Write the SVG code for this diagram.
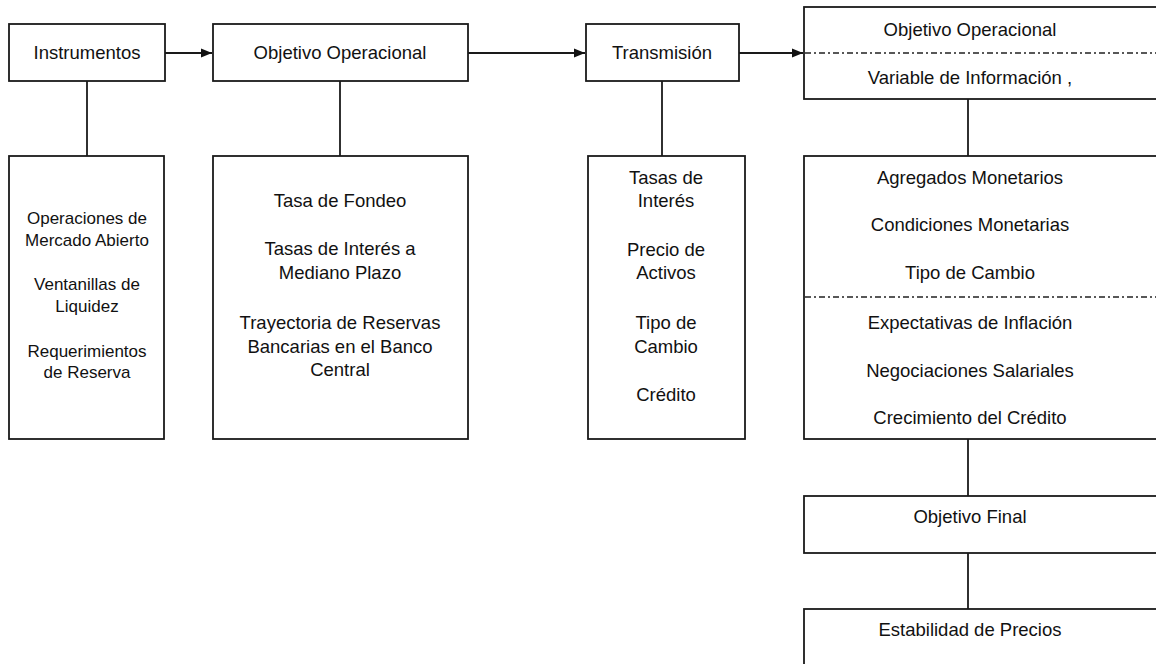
<svg xmlns="http://www.w3.org/2000/svg" width="1156" height="664" viewBox="0 0 1156 664">
<style>
.box{fill:#fff;stroke:#1a1a1a;stroke-width:1.8}
.t{font-family:"Liberation Sans",Arial,sans-serif;font-size:18.5px;fill:#111;text-anchor:middle}
.ts{font-family:"Liberation Sans",Arial,sans-serif;font-size:17px;fill:#111;text-anchor:middle}
.c{stroke:#1a1a1a;stroke-width:1.8;fill:none}
.dd{stroke:#222;stroke-width:1.3;stroke-dasharray:6 3 2 3;fill:none}
</style>
<defs>
<marker id="ah" markerWidth="12" markerHeight="12" refX="11" refY="6" orient="auto" markerUnits="userSpaceOnUse">
<path d="M0,1.5 L11,6 L0,10.5 Z" fill="#111"/>
</marker>
</defs>
<rect width="1156" height="664" fill="#fff"/>
<g id="connectors">
<line class="c" x1="165" y1="53" x2="212" y2="53" marker-end="url(#ah)"/>
<line class="c" x1="468" y1="53" x2="585" y2="53" marker-end="url(#ah)"/>
<line class="c" x1="739" y1="53" x2="803" y2="53" marker-end="url(#ah)"/>
<line class="c" x1="87" y1="81" x2="87" y2="156"/>
<line class="c" x1="340" y1="81" x2="340" y2="156"/>
<line class="c" x1="662" y1="81" x2="662" y2="156"/>
<line class="c" x1="968" y1="99" x2="968" y2="156"/>
<line class="c" x1="968" y1="439" x2="968" y2="496"/>
<line class="c" x1="968" y1="553" x2="968" y2="609"/>
</g>
<g id="n-instrumentos">
<rect class="box" x="9" y="24" width="156" height="57"/>
<text class="t" x="87" y="59">Instrumentos</text>
</g>
<g id="n-objetivo-operacional">
<rect class="box" x="213" y="24" width="255" height="57"/>
<text class="t" x="340" y="59">Objetivo Operacional</text>
</g>
<g id="n-transmision">
<rect class="box" x="586" y="24" width="153" height="57"/>
<text class="t" x="662" y="59">Transmisión</text>
</g>
<g id="n-objetivo-variable">
<rect class="box" x="804" y="7" width="370" height="92"/>
<line class="dd" x1="805" y1="53" x2="1156" y2="53"/>
<text class="t" x="970" y="36">Objetivo Operacional</text>
<text class="t" x="970" y="84">Variable de Información ,</text>
</g>
<g id="n-instrumentos-lista">
<rect class="box" x="9" y="156" width="155" height="283"/>
<text class="ts" x="87" y="224">Operaciones de</text>
<text class="ts" x="87" y="246">Mercado Abierto</text>
<text class="ts" x="87" y="290">Ventanillas de</text>
<text class="ts" x="87" y="312">Liquidez</text>
<text class="ts" x="87" y="357">Requerimientos</text>
<text class="ts" x="87" y="378">de Reserva</text>
</g>
<g id="n-objetivo-lista">
<rect class="box" x="213" y="156" width="255" height="283"/>
<text class="t" x="340" y="207">Tasa de Fondeo</text>
<text class="t" x="340" y="255">Tasas de Interés a</text>
<text class="t" x="340" y="279">Mediano Plazo</text>
<text class="t" x="340" y="329">Trayectoria de Reservas</text>
<text class="t" x="340" y="353">Bancarias en el Banco</text>
<text class="t" x="340" y="376">Central</text>
</g>
<g id="n-transmision-lista">
<rect class="box" x="588" y="156" width="157" height="283"/>
<text class="t" x="666" y="184">Tasas de</text>
<text class="t" x="666" y="207">Interés</text>
<text class="t" x="666" y="256">Precio de</text>
<text class="t" x="666" y="279">Activos</text>
<text class="t" x="666" y="329">Tipo de</text>
<text class="t" x="666" y="353">Cambio</text>
<text class="t" x="666" y="401">Crédito</text>
</g>
<g id="n-variables-lista">
<rect class="box" x="804" y="156" width="370" height="283"/>
<line class="dd" x1="805" y1="297" x2="1156" y2="297"/>
<text class="t" x="970" y="184">Agregados Monetarios</text>
<text class="t" x="970" y="231">Condiciones Monetarias</text>
<text class="t" x="970" y="279">Tipo de Cambio</text>
<text class="t" x="970" y="329">Expectativas de Inflación</text>
<text class="t" x="970" y="377">Negociaciones Salariales</text>
<text class="t" x="970" y="424">Crecimiento del Crédito</text>
</g>
<g id="n-objetivo-final">
<rect class="box" x="804" y="496" width="370" height="57"/>
<text class="t" x="970" y="523">Objetivo Final</text>
</g>
<g id="n-estabilidad">
<rect class="box" x="804" y="609" width="370" height="70"/>
<text class="t" x="970" y="636">Estabilidad de Precios</text>
</g>
</svg>
